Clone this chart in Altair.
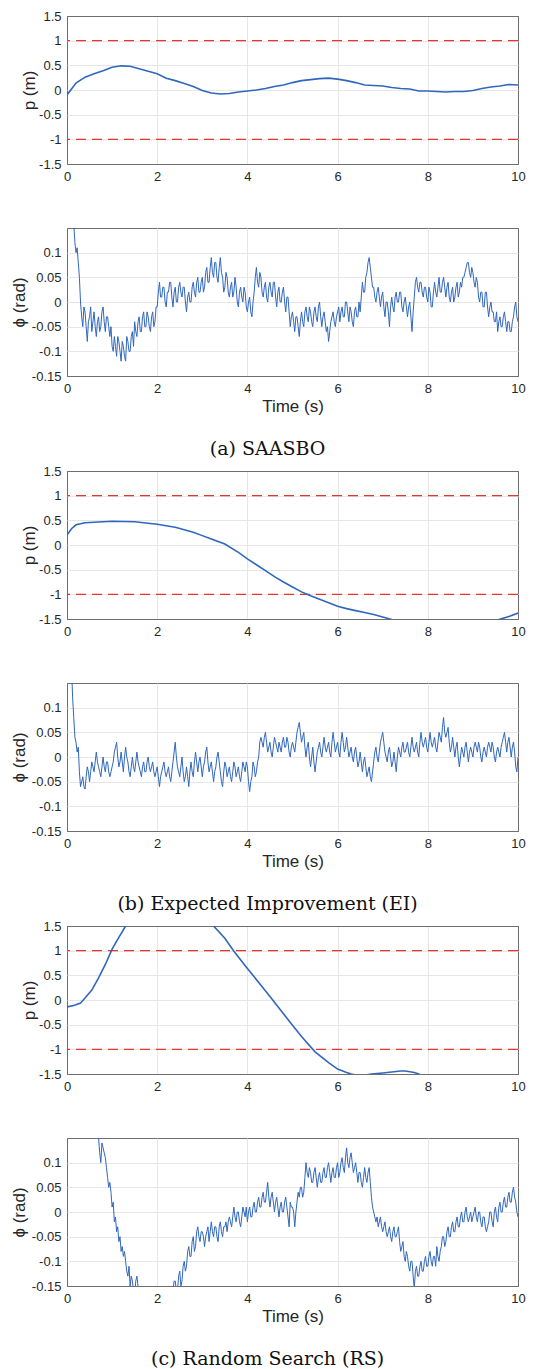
import altair as alt
import pandas as pd

# ---------------- data ----------------
X_TICKS = [0, 2, 4, 6, 8, 10]
P_TICKS = [-1.5, -1, -0.5, 0, 0.5, 1, 1.5]
PHI_TICKS = [-0.15, -0.1, -0.05, 0, 0.05, 0.1]
LIMITS = [1, -1]
CAPTIONS = ["(a) SAASBO", "(b) Expected Improvement (EI)", "(c) Random Search (RS)"]

# p(t) for SAASBO, sampled every 0.2 s
saasbo_p_t = [round(i * 0.2, 1) for i in range(51)]
saasbo_p = [-0.10, 0.14, 0.26, 0.33, 0.39, 0.46, 0.49, 0.48, 0.43, 0.38,
            0.33, 0.24, 0.19, 0.13, 0.07, -0.01, -0.06, -0.08, -0.07, -0.04,
            -0.02, 0.00, 0.03, 0.07, 0.10, 0.15, 0.19, 0.21, 0.23, 0.24,
            0.22, 0.19, 0.15, 0.10, 0.09, 0.08, 0.05, 0.03, 0.02, -0.02,
            -0.02, -0.03, -0.04, -0.03, -0.03, -0.01, 0.03, 0.06, 0.08, 0.11,
            0.10]

ei_p_t = [0, 0.1, 0.2, 0.4, 0.6, 1.0, 1.5, 2.0, 2.4, 2.8, 3.0, 3.2, 3.5, 3.8, 4.0,
          4.2, 4.4, 4.6, 4.8, 5.0, 5.2, 5.4, 5.6, 5.8, 6.0, 6.2, 6.4, 6.6, 6.8, 7.0,
          7.2, 7.6, 8.0, 8.5, 9.0, 9.5, 9.8, 10.0]
ei_p = [0.20, 0.33, 0.41, 0.45, 0.46, 0.48, 0.47, 0.42, 0.36, 0.26,
        0.19, 0.12, 0.02, -0.15, -0.28, -0.40, -0.52, -0.64, -0.75, -0.85,
        -0.95, -1.03, -1.10, -1.17, -1.24, -1.29, -1.33, -1.37, -1.41, -1.46,
        -1.51, -1.58, -1.64, -1.66, -1.62, -1.53, -1.45, -1.38]

rs_p_t = [0, 0.15, 0.3, 0.4, 0.55, 0.7, 0.85, 1.0, 1.15, 1.3, 1.5, 2.0, 2.5, 3.0, 3.25,
          3.5, 3.7, 4.0, 4.3, 4.5, 4.8, 5.0, 5.2, 5.5, 5.8, 6.0, 6.2, 6.3, 6.5, 6.75,
          7.0, 7.2, 7.4, 7.5, 7.7, 7.8, 8.0, 9.0, 10.0]
rs_p = [-0.14, -0.11, -0.06, 0.04, 0.20, 0.45, 0.72, 1.03, 1.27, 1.50,
        1.80, 2.20, 2.30, 1.90, 1.50, 1.25, 0.99, 0.64, 0.30, 0.07,
        -0.28, -0.51, -0.74, -1.05, -1.27, -1.40, -1.47, -1.50, -1.54, -1.50,
        -1.48, -1.46, -1.44, -1.44, -1.47, -1.50, -1.60, -1.80, -1.90]

# phi(t), sampled every 0.025 s (one row per second)
phi_t = [round(i * 0.025, 3) for i in range(401)]
saasbo_phi = [
    0.30, 0.28, 0.25, 0.22, 0.20, 0.18, 0.16, 0.12, 0.10, 0.11, 0.08, 0.05, 0.00, -0.03, -0.05, -0.01, -0.02, -0.05, -0.08, -0.04,
    -0.03, -0.01, -0.06, -0.04, -0.02, -0.05, -0.07, -0.04, -0.03, -0.06, -0.05, -0.02, -0.01, -0.04, -0.06, -0.03, -0.03, -0.05, -0.07, -0.05,
    -0.09, -0.10, -0.07, -0.09, -0.11, -0.07, -0.08, -0.10, -0.12, -0.08, -0.09, -0.11, -0.12, -0.07, -0.08, -0.10, -0.10, -0.07, -0.06, -0.09,
    -0.04, -0.06, -0.07, -0.04, -0.03, -0.06, -0.06, -0.03, -0.02, -0.05, -0.05, -0.02, -0.03, -0.05, -0.06, -0.03, -0.02, -0.05, -0.04, -0.01,
    -0.01, 0.02, 0.04, 0.01, 0.01, 0.03, 0.03, 0.00, -0.01, 0.02, 0.02, 0.04, 0.04, 0.01, -0.01, 0.02, 0.03, 0.00, 0.00, 0.03,
    0.04, 0.02, 0.01, 0.03, 0.03, 0.00, -0.02, 0.01, 0.02, 0.00, 0.00, 0.03, 0.04, 0.02, 0.01, 0.04, 0.05, 0.02, 0.02, 0.04,
    0.05, 0.02, 0.03, 0.06, 0.07, 0.04, 0.04, 0.07, 0.09, 0.06, 0.05, 0.08, 0.08, 0.05, 0.04, 0.07, 0.09, 0.06, 0.05, 0.02,
    0.03, 0.06, 0.05, 0.02, 0.01, 0.03, 0.04, 0.01, 0.02, 0.05, 0.03, 0.00, -0.01, 0.02, 0.03, 0.01, 0.00, 0.03, 0.02, -0.01,
    -0.02, 0.00, 0.01, -0.02, -0.03, 0.00, 0.02, 0.05, 0.07, 0.04, 0.03, 0.06, 0.05, 0.02, 0.01, 0.03, 0.04, 0.01, 0.00, 0.03,
    0.04, 0.02, 0.01, 0.04, 0.04, 0.01, -0.01, 0.02, 0.03, 0.00, 0.00, 0.02, 0.03, 0.00, -0.02, 0.01, 0.01, -0.02, -0.05, -0.03,
    -0.02, -0.04, -0.06, -0.03, -0.03, -0.05, -0.07, -0.04, -0.02, -0.04, -0.05, -0.02, -0.01, -0.03, -0.04, -0.01, -0.02, -0.04, -0.05, -0.02,
    -0.01, -0.03, -0.04, -0.01, 0.00, -0.03, -0.05, -0.03, -0.02, -0.04, -0.06, -0.05, -0.08, -0.06, -0.04, -0.03, -0.02, -0.04, -0.05, -0.03,
    -0.02, -0.01, -0.04, -0.02, -0.01, -0.03, -0.03, 0.00, 0.00, -0.02, -0.04, -0.01, -0.02, -0.04, -0.05, -0.02, -0.01, -0.03, -0.03, 0.00,
    -0.02, 0.01, 0.04, 0.02, 0.02, 0.05, 0.06, 0.08, 0.09, 0.07, 0.05, 0.03, 0.03, 0.01, 0.00, 0.02, 0.03, 0.01, -0.01, 0.01,
    0.02, -0.01, -0.03, 0.00, 0.00, -0.02, -0.05, -0.01, 0.01, -0.01, -0.02, 0.01, 0.02, 0.00, 0.00, 0.02, 0.02, -0.01, -0.02, 0.00,
    0.01, -0.01, -0.03, -0.01, 0.00, -0.03, -0.06, -0.02, 0.01, 0.04, 0.05, 0.03, 0.02, 0.04, 0.04, 0.02, 0.01, 0.03, 0.03, 0.01,
    0.00, 0.03, 0.02, -0.01, -0.01, 0.02, 0.04, 0.02, 0.01, 0.03, 0.05, 0.02, 0.02, 0.04, 0.05, 0.03, 0.01, 0.03, 0.04, 0.01,
    0.00, 0.02, 0.03, 0.00, 0.01, 0.03, 0.04, 0.01, 0.02, 0.04, 0.03, 0.05, 0.05, 0.06, 0.07, 0.08, 0.08, 0.06, 0.05, 0.07,
    0.06, 0.04, 0.03, 0.05, 0.04, 0.01, 0.00, 0.02, 0.02, -0.01, -0.01, 0.02, 0.02, -0.01, -0.03, -0.01, 0.00, -0.02, -0.02, -0.04,
    -0.04, -0.02, -0.06, -0.04, -0.03, -0.05, -0.05, -0.03, -0.02, -0.04, -0.06, -0.04, -0.04, -0.06, -0.06, -0.04, -0.03, -0.01, 0.00, -0.03,
    -0.04]
ei_phi = [
    0.30, 0.27, 0.24, 0.21, 0.18, 0.12, 0.08, 0.04, 0.03, 0.01, 0.02, -0.03, -0.06, -0.05, -0.04, -0.06, -0.065, -0.04, -0.02, -0.03,
    -0.05, -0.03, -0.01, -0.02, -0.03, -0.01, 0.01, -0.01, -0.02, -0.03, -0.04, -0.02, 0.00, -0.02, -0.03, -0.01, -0.01, -0.03, -0.04, -0.03,
    -0.02, -0.01, 0.01, 0.02, 0.03, 0.00, -0.02, -0.01, 0.01, -0.01, -0.03, 0.00, 0.02, 0.00, -0.01, -0.03, -0.04, -0.02, 0.00, -0.02,
    -0.03, -0.01, 0.01, -0.01, -0.02, -0.03, -0.04, -0.02, -0.01, -0.03, -0.03, -0.01, 0.00, -0.02, -0.03, -0.02, -0.01, -0.03, -0.04, -0.03,
    -0.02, -0.04, -0.06, -0.04, -0.03, -0.02, -0.01, -0.03, -0.04, -0.03, -0.02, -0.04, -0.05, -0.03, -0.01, 0.01, 0.03, 0.00, -0.02, -0.03,
    -0.04, -0.02, 0.00, -0.03, -0.05, -0.04, -0.02, -0.04, -0.06, -0.03, -0.01, -0.03, -0.04, -0.01, 0.01, -0.01, -0.03, -0.01, 0.00, -0.02,
    -0.04, -0.02, -0.01, 0.01, 0.02, -0.01, -0.03, -0.02, -0.01, -0.03, -0.05, -0.03, -0.02, 0.00, 0.01, -0.01, -0.03, -0.05, -0.06, -0.03,
    -0.01, -0.02, -0.04, -0.03, -0.02, -0.04, -0.05, -0.03, -0.01, -0.02, -0.04, -0.03, -0.02, -0.04, -0.05, -0.03, -0.01, -0.02, -0.03, -0.01,
    -0.02, -0.05, -0.07, -0.05, -0.04, -0.01, -0.02, -0.04, -0.03, -0.01, 0.00, 0.03, 0.04, 0.03, 0.02, 0.04, 0.05, 0.03, 0.01, 0.02,
    0.03, 0.01, 0.00, 0.02, 0.04, 0.03, 0.02, 0.01, 0.03, 0.02, 0.01, 0.03, 0.04, 0.02, 0.02, 0.04, 0.03, 0.01, 0.00, 0.02,
    0.03, 0.02, 0.01, 0.03, 0.05, 0.06, 0.07, 0.05, 0.03, 0.04, 0.05, 0.02, 0.00, 0.02, 0.03, 0.00, -0.02, 0.00, 0.02, -0.01,
    -0.03, -0.01, 0.01, 0.02, 0.03, 0.01, 0.00, 0.02, 0.04, 0.02, 0.01, 0.02, 0.03, 0.01, 0.00, 0.03, 0.05, 0.03, 0.01, 0.02,
    0.03, 0.01, 0.00, 0.03, 0.05, 0.03, 0.01, 0.02, 0.04, 0.02, 0.00, 0.01, 0.02, 0.00, -0.01, 0.01, 0.02, 0.00, -0.02, -0.01,
    0.01, -0.01, -0.03, -0.01, 0.00, -0.02, -0.04, -0.03, -0.02, -0.04, -0.05, -0.03, -0.01, 0.01, 0.02, 0.00, -0.01, 0.01, 0.03, 0.04,
    0.05, 0.03, 0.01, 0.00, -0.01, 0.01, 0.02, 0.00, -0.02, -0.01, 0.01, -0.01, -0.03, 0.00, 0.02, 0.01, 0.00, 0.02, 0.03, 0.01,
    0.01, 0.02, 0.03, 0.01, 0.00, 0.02, 0.04, 0.02, 0.01, 0.02, 0.03, 0.01, 0.00, 0.03, 0.05, 0.03, 0.02, 0.03, 0.04, 0.02,
    0.01, 0.03, 0.05, 0.03, 0.02, 0.03, 0.04, 0.02, 0.01, 0.03, 0.05, 0.04, 0.03, 0.06, 0.08, 0.05, 0.04, 0.05, 0.06, 0.03,
    0.01, 0.02, 0.04, 0.02, 0.00, 0.02, 0.03, 0.00, -0.02, 0.00, 0.02, 0.01, 0.00, 0.02, 0.03, 0.01, -0.01, 0.01, 0.02, 0.01,
    0.00, 0.02, 0.03, 0.02, 0.01, 0.03, 0.02, 0.00, -0.01, 0.01, 0.02, 0.01, 0.00, 0.02, 0.03, 0.02, 0.01, 0.03, 0.02, 0.00,
    -0.01, 0.01, 0.02, 0.01, 0.00, 0.02, 0.03, 0.04, 0.05, 0.03, 0.01, 0.03, 0.04, 0.02, 0.00, 0.02, 0.03, 0.01, -0.02, -0.03,
    0.00]
rs_phi = [
    0.45, 0.44, 0.43, 0.42, 0.41, 0.40, 0.39, 0.38, 0.37, 0.36, 0.35, 0.34, 0.33, 0.32, 0.31, 0.30, 0.29, 0.28, 0.27, 0.26,
    0.25, 0.23, 0.22, 0.21, 0.20, 0.18, 0.17, 0.16, 0.15, 0.12, 0.10, 0.14, 0.13, 0.12, 0.11, 0.09, 0.07, 0.05, 0.06, 0.04,
    0.01, 0.02, -0.02, -0.01, -0.04, -0.03, -0.06, -0.05, -0.08, -0.07, -0.09, -0.08, -0.10, -0.12, -0.13, -0.11, -0.15, -0.13, -0.14, -0.16,
    -0.17, -0.14, -0.13, -0.15, -0.16, -0.18, -0.19, -0.20, -0.20, -0.21, -0.21, -0.22, -0.22, -0.23, -0.23, -0.23, -0.23, -0.24, -0.24, -0.24,
    -0.24, -0.24, -0.23, -0.23, -0.22, -0.22, -0.21, -0.21, -0.20, -0.20, -0.19, -0.18, -0.18, -0.17, -0.16, -0.14, -0.14, -0.16, -0.16, -0.13,
    -0.12, -0.15, -0.14, -0.11, -0.10, -0.12, -0.11, -0.08, -0.07, -0.09, -0.09, -0.06, -0.05, -0.08, -0.07, -0.04, -0.03, -0.05, -0.06, -0.04,
    -0.04, -0.05, -0.07, -0.05, -0.04, -0.03, -0.06, -0.04, -0.02, -0.04, -0.05, -0.03, -0.03, -0.05, -0.06, -0.03, -0.02, -0.04, -0.05, -0.03,
    -0.03, -0.02, -0.04, -0.02, -0.01, -0.02, -0.03, -0.01, 0.01, -0.01, -0.02, 0.00, 0.00, -0.02, -0.03, -0.01, 0.01, 0.00, -0.01, 0.01,
    -0.02, 0.00, 0.01, -0.01, -0.01, 0.01, 0.02, 0.00, 0.00, 0.02, 0.03, 0.01, 0.01, 0.03, 0.04, 0.02, 0.02, 0.04, 0.06, 0.03,
    0.01, 0.03, 0.04, 0.02, 0.00, 0.02, 0.03, 0.01, -0.01, 0.01, 0.02, 0.00, 0.00, 0.02, 0.03, 0.01, -0.01, -0.03, 0.02, 0.01,
    0.01, 0.00, -0.03, 0.00, 0.02, 0.04, 0.03, 0.05, 0.05, 0.03, 0.04, 0.07, 0.10, 0.08, 0.07, 0.09, 0.08, 0.06, 0.06, 0.08,
    0.09, 0.07, 0.05, 0.07, 0.08, 0.06, 0.06, 0.08, 0.09, 0.07, 0.07, 0.09, 0.10, 0.08, 0.06, 0.08, 0.09, 0.07, 0.07, 0.09,
    0.10, 0.07, 0.08, 0.10, 0.11, 0.09, 0.08, 0.11, 0.13, 0.10, 0.09, 0.11, 0.12, 0.10, 0.08, 0.09, 0.10, 0.08, 0.06, 0.08,
    0.08, 0.06, 0.05, 0.07, 0.09, 0.07, 0.06, 0.08, 0.09, 0.06, 0.03, 0.01, 0.00, -0.01, -0.02, -0.01, -0.03, -0.02, -0.01, -0.03,
    -0.04, -0.03, -0.02, -0.04, -0.05, -0.04, -0.03, -0.05, -0.06, -0.04, -0.03, -0.05, -0.05, -0.04, -0.03, -0.06, -0.08, -0.07, -0.06, -0.09,
    -0.10, -0.08, -0.09, -0.11, -0.12, -0.10, -0.10, -0.13, -0.155, -0.12, -0.11, -0.13, -0.13, -0.11, -0.10, -0.12, -0.12, -0.10, -0.09, -0.11,
    -0.11, -0.09, -0.08, -0.10, -0.11, -0.09, -0.09, -0.11, -0.07, -0.09, -0.10, -0.08, -0.07, -0.05, -0.05, -0.07, -0.06, -0.04, -0.03, -0.05,
    -0.05, -0.03, -0.02, -0.04, -0.04, -0.02, -0.01, -0.03, -0.03, -0.01, 0.00, -0.02, -0.02, 0.00, 0.01, -0.01, -0.02, -0.01, 0.00, -0.02,
    -0.01, 0.00, 0.01, -0.01, -0.02, 0.00, 0.00, -0.02, -0.03, -0.01, -0.01, -0.03, -0.04, -0.03, -0.02, 0.00, 0.00, -0.02, -0.03, 0.00,
    0.01, -0.01, -0.02, 0.01, 0.02, 0.00, 0.00, 0.02, 0.03, 0.01, 0.01, 0.03, 0.04, 0.02, 0.02, 0.04, 0.05, 0.03, 0.02, 0.00,
    -0.01]

for _series in (saasbo_phi, ei_phi, rs_phi):
    assert len(_series) == len(phi_t), len(_series)

# ---------------- styling ----------------
FONT = "Liberation Sans"
SERIF = "DejaVu Serif"
BLUE = "#3067bd"
RED = "#e8362f"
TXT = "#262626"
FRAME = "#6e6e6e"
GRID = "#e6e6e6"
W, H = 451, 148
LABEL_EXPR = "'' + datum.value"


def grid_color(test):
    return {"condition": {"test": test, "value": FRAME}, "value": GRID}


def x_enc(show_title):
    return alt.X(
        "t:Q",
        scale=alt.Scale(domain=[0, 10], nice=False, zero=False),
        axis=alt.Axis(values=X_TICKS, title="Time (s)" if show_title else None,
                      labelPadding=6, titlePadding=3, labelFlush=False,
                      gridColor=grid_color("datum.value <= 0 || datum.value >= 10")),
    )


def p_chart(t, v):
    df = pd.DataFrame({"t": t, "v": v})
    y = alt.Y("v:Q", scale=alt.Scale(domain=[-1.5, 1.5], nice=False, zero=False),
              axis=alt.Axis(values=P_TICKS, title="p (m)", labelExpr=LABEL_EXPR,
                            labelPadding=6, titleX=-38, titleY=H / 2,
                            titleBaseline="middle", titleAlign="center",
                            gridColor=grid_color("abs(datum.value) >= 1.5")))
    rules = alt.Chart(pd.DataFrame({"v": LIMITS})).mark_rule(
        color=RED, strokeDash=[10, 6], strokeWidth=1.2
    ).encode(y=y)
    line = alt.Chart(df).mark_line(color=BLUE, strokeWidth=1.6, clip=True).encode(
        x=x_enc(False), y=y)
    return alt.layer(rules, line).properties(width=W, height=H)


def phi_chart(v):
    df = pd.DataFrame({"t": phi_t, "v": v})
    y = alt.Y("v:Q", scale=alt.Scale(domain=[-0.15, 0.15], nice=False, zero=False),
              axis=alt.Axis(values=PHI_TICKS, title="ϕ (rad)", labelExpr=LABEL_EXPR,
                            labelPadding=6, titleX=-48, titleY=H / 2,
                            titleBaseline="middle", titleAlign="center",
                            gridColor=grid_color("datum.value <= -0.15")))
    return alt.Chart(df).mark_line(color=BLUE, strokeWidth=1, clip=True).encode(
        x=x_enc(True), y=y).properties(width=W, height=H)


def group(pc, phic, caption):
    return alt.vconcat(pc, phic, spacing=43).properties(
        title=alt.TitleParams(caption, orient="bottom", font=SERIF, fontSize=19,
                              fontWeight="normal", color="#111111", offset=25,
                              anchor="middle"))


chart = alt.vconcat(
    group(p_chart(saasbo_p_t, saasbo_p), phi_chart(saasbo_phi), CAPTIONS[0]),
    group(p_chart(ei_p_t, ei_p), phi_chart(ei_phi), CAPTIONS[1]),
    group(p_chart(rs_p_t, rs_p), phi_chart(rs_phi), CAPTIONS[2]),
    spacing=5,
).properties(
    padding={"left": 1, "top": 1, "right": 5, "bottom": 2},
    background="white",
).configure_view(
    stroke=FRAME, strokeWidth=1
).configure_axis(
    labelFont=FONT, titleFont=FONT, labelFontSize=13, titleFontSize=17,
    titleFontWeight="normal", labelColor=TXT, titleColor=TXT,
    grid=True, gridWidth=1, domain=False, ticks=False,
)

chart.save("out.html", embed_options={"renderer": "svg", "actions": False})
